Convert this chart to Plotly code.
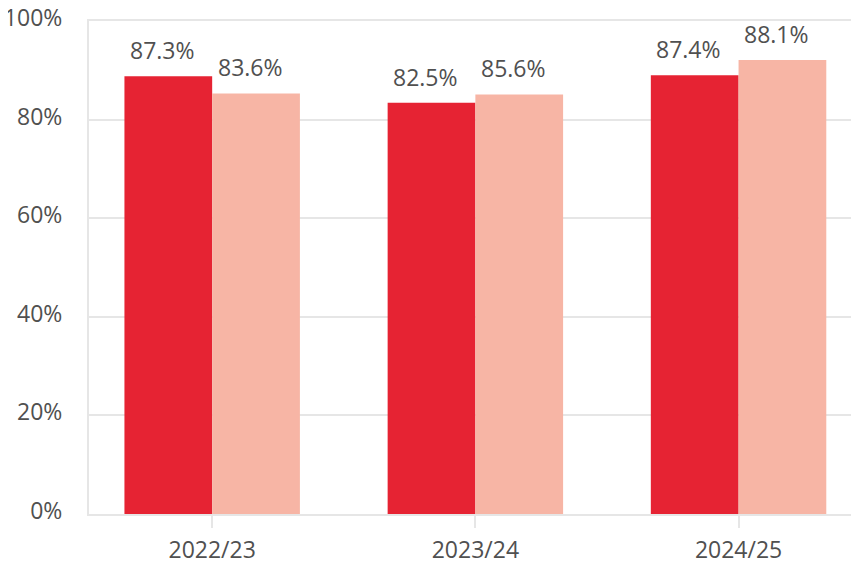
import plotly.graph_objects as go

# data
years = ['2022/23', '2023/24', '2024/25']
series_a = [88.8, 83.4, 89.0]   # bar heights (red)
series_b = [85.3, 85.1, 92.1]   # bar heights (pink)
labels_a = ['87.3%', '82.5%', '87.4%']
labels_b = ['83.6%', '85.6%', '88.1%']
y_ticks = [0, 20, 40, 60, 80, 100]
y_tick_text = ['0%', '20%', '40%', '60%', '80%', '100%']

red = '#E62333'
pink = '#F7B5A5'
grey_text = '#505050'
grid = '#E6E6E6'
font_name = 'Open Sans'

bargap = 1 / 3
half = (1 - bargap) / 4  # offset of each bar centre from the category centre
xs = list(range(len(years)))

fig = go.Figure()
fig.add_trace(go.Bar(x=xs, y=series_a, marker=dict(color=red, line=dict(width=0)),
                     name='A', hoverinfo='skip'))
fig.add_trace(go.Bar(x=xs, y=series_b, marker=dict(color=pink, line=dict(width=0)),
                     name='B', hoverinfo='skip'))

# value labels above the bars
for i in xs:
    for dx, val, txt in [(-half, series_a[i], labels_a[i]), (half, series_b[i], labels_b[i])]:
        fig.add_annotation(x=i + dx, y=val, text=txt, showarrow=False,
                           xanchor='center', yanchor='bottom', xshift=-6, yshift=8,
                           font=dict(family=font_name, size=23, color=grey_text))

# page body adds an 8px margin, so the figure is a bit smaller than the window
fig.update_layout(
    width=851, height=556,
    margin=dict(l=81, r=2, t=13, b=50),
    barmode='group', bargap=bargap, bargroupgap=0,
    showlegend=False,
    plot_bgcolor='white', paper_bgcolor='white',
    font=dict(family=font_name, size=23, color=grey_text),
)
fig.update_xaxes(range=[-0.468, 2.450], tickvals=xs, ticktext=years,
                 automargin=False,
                 showgrid=False, zeroline=False,
                 showline=True, mirror=True, linecolor=grid, linewidth=2,
                 ticks='outside', ticklen=12, tickwidth=2, tickcolor=grid,
                 ticklabelstandoff=2,
                 tickfont=dict(family=font_name, size=23, color=grey_text))
fig.update_yaxes(range=[0, 100], tickvals=y_ticks, ticktext=y_tick_text,
                 automargin=False, ticklabeloverflow='allow', ticklabelshift=-3,
                 showgrid=True, gridcolor=grid, gridwidth=2, zeroline=False,
                 showline=True, mirror=True, linecolor=grid, linewidth=2,
                 ticks='', ticklabelstandoff=20,
                 tickfont=dict(family=font_name, size=23, color=grey_text))

fig.write_html('out.html')
